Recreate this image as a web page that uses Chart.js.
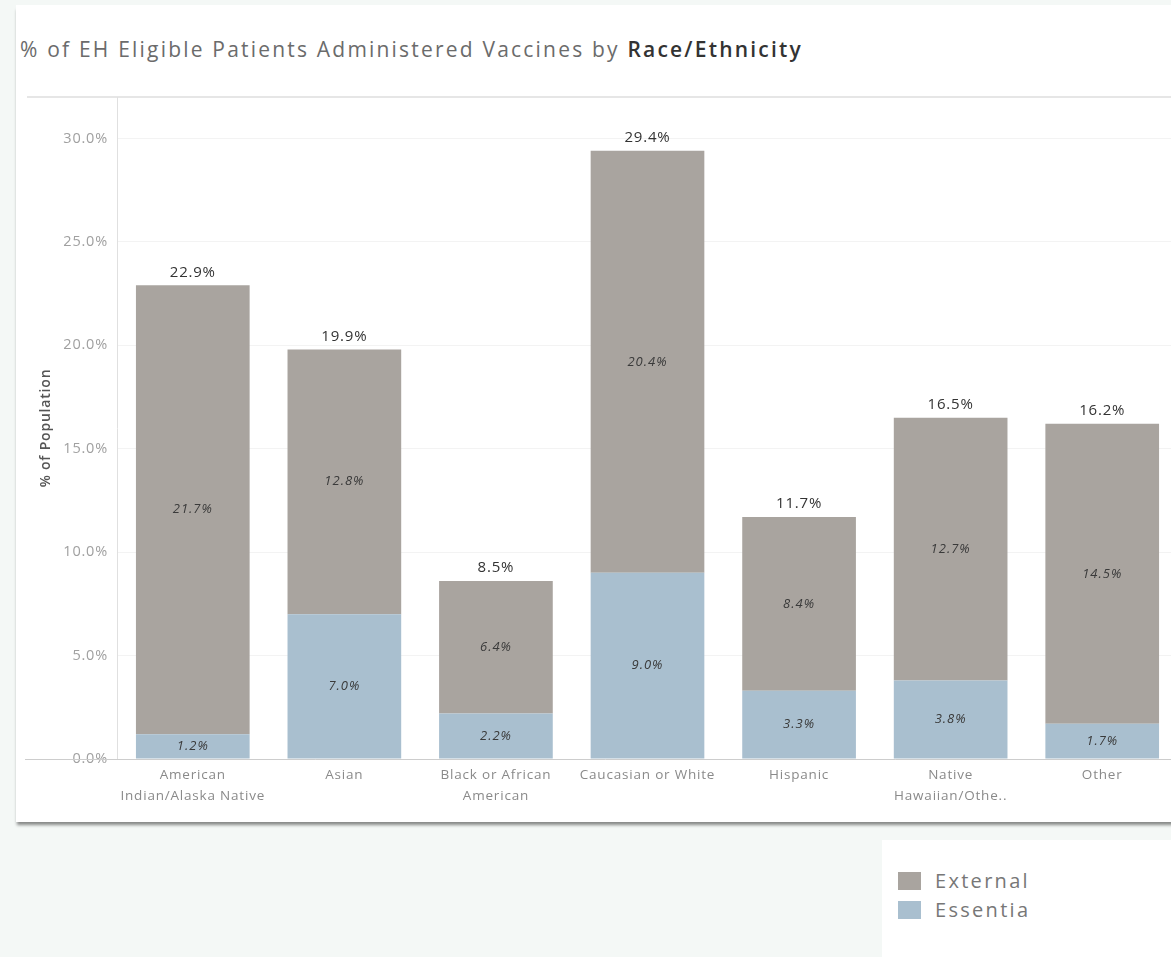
<!DOCTYPE html>
<html><head><meta charset="utf-8">
<script src="https://cdn.jsdelivr.net/npm/chart.js@4"></script>
<style>
html,body{margin:0;padding:0;width:1171px;height:957px;overflow:hidden;background:#f4f8f6;font-family:"Open Sans",sans-serif;}
#card{position:absolute;left:16px;top:5px;width:1200px;height:817px;background:#fff;box-shadow:0 4px 3px -1px rgba(0,0,0,0.45);}
#title{position:absolute;left:20px;top:36px;font-size:21px;line-height:27px;letter-spacing:2.2px;color:#6b6b6b;white-space:nowrap;}
#title b{color:#333;font-weight:600;}
#topline{position:absolute;left:27px;top:96px;width:1200px;height:0;border-top:2px solid #e6e6e6;}
#wrap{position:absolute;left:16px;top:97px;width:1170px;height:725px;}
#legend{position:absolute;left:882px;top:840px;width:300px;height:130px;background:#fff;}
.item{position:absolute;left:16px;height:18px;font-size:20px;letter-spacing:2.3px;color:#777;line-height:18px;white-space:nowrap;}
.sw{display:inline-block;width:23px;height:18px;vertical-align:top;margin-right:14px;}
</style></head>
<body>
<div id="card"></div>
<div id="title">% of EH Eligible Patients Administered Vaccines by <b>Race/Ethnicity</b></div>
<div id="topline"></div>
<div id="wrap"><canvas id="c" width="1170" height="725"></canvas></div>
<div id="legend"></div>
<script>
const categories = [["American","Indian/Alaska Native"],"Asian",["Black or African","American"],"Caucasian or White","Hispanic",["Native","Hawaiian/Othe.."],"Other"];
const essentia = [1.2,7.0,2.2,9.0,3.3,3.8,1.7];
const external = [21.7,12.8,6.4,20.4,8.4,12.7,14.5];
const totals = [22.9,19.9,8.5,29.4,11.7,16.5,16.2];
const seriesNames = ["External","Essentia"];
const yAxisTitle = "% of Population";

const COL_EXT = "#a9a49f";
const COL_ESS = "#a9bfcf";
const FONT = '"Open Sans"';

// legend
const lg = document.getElementById('legend');
[[seriesNames[0],COL_EXT],[seriesNames[1],COL_ESS]].forEach((it,i)=>{
  const d=document.createElement('div');d.className='item';d.style.top=(32+i*29)+'px';
  d.innerHTML='<span class="sw" style="background:'+it[1]+'"></span>'+it[0];
  lg.appendChild(d);
});

const spacingPlugin = {
  id:'spacing',
  beforeLayout(chart){chart.ctx.letterSpacing='0.8px';},
  beforeDraw(chart){chart.ctx.letterSpacing='0.8px';}
};

const labelPlugin = {
  id:'segLabels',
  afterDatasetsDraw(chart){
    const ctx=chart.ctx;
    ctx.save();
    ctx.textAlign='center';ctx.textBaseline='middle';
    ctx.letterSpacing='1px';
    chart.data.datasets.forEach((ds,di)=>{
      const meta=chart.getDatasetMeta(di);
      meta.data.forEach((bar,i)=>{
        const p=bar.getProps(['x','y','base'],true);
        ctx.font='italic 13px '+FONT;
        ctx.fillStyle='#3a3a3a';
        ctx.fillText(ds.data[i].toFixed(1)+'%',p.x,(p.y+p.base)/2);
      });
    });
    const topMeta=chart.getDatasetMeta(chart.data.datasets.length-1);
    ctx.letterSpacing='0.8px';
    topMeta.data.forEach((bar,i)=>{
      ctx.font='15px '+FONT;ctx.fillStyle='#333';
      ctx.fillText(totals[i].toFixed(1)+'%',bar.x,bar.y-13);
    });
    const y0=chart.scales.y.getPixelForValue(0);
    ctx.strokeStyle='#cdcdcd';ctx.lineWidth=1;
    ctx.beginPath();ctx.moveTo(9,y0+0.5);ctx.lineTo(chart.width,y0+0.5);ctx.stroke();
    ctx.restore();
  }
};

new Chart(document.getElementById('c'),{
  type:'bar',
  data:{labels:categories,datasets:[
    {label:seriesNames[1],data:essentia,backgroundColor:COL_ESS,stack:'s',barPercentage:0.75,categoryPercentage:1},
    {label:seriesNames[0],data:external,backgroundColor:COL_EXT,stack:'s',barPercentage:0.75,categoryPercentage:1}
  ]},
  options:{
    responsive:false,animation:false,
    layout:{padding:{left:0,right:8,top:0,bottom:0}},
    plugins:{legend:{display:false},tooltip:{enabled:false}},
    scales:{
      x:{stacked:true,grid:{display:false,drawTicks:false},border:{display:false},
         ticks:{font:{family:FONT,size:13.5,lineHeight:1.55},color:'#8a8a8a',padding:6,maxRotation:0,autoSkip:false},
         afterFit(s){s.height=63;s.paddingLeft=0;s.paddingRight=0;}},
      y:{stacked:true,min:0,max:32,
         grid:{color:'#f3f3f3',drawTicks:false},
         border:{display:true,color:'#e0e0e0'},
         ticks:{stepSize:5,includeBounds:false,padding:9,color:'#a0a0a0',font:{family:FONT,size:14.5},
                callback:v=>v.toFixed(1)+'%'},
         title:{display:true,text:yAxisTitle,color:'#555',font:{family:FONT,size:14,weight:'600'},padding:{top:21.6,bottom:0}},
         afterFit(s){s.width=101;s.paddingTop=0;s.paddingBottom=0;}}
    }
  },
  plugins:[spacingPlugin,labelPlugin]
});
</script>
</body></html>
